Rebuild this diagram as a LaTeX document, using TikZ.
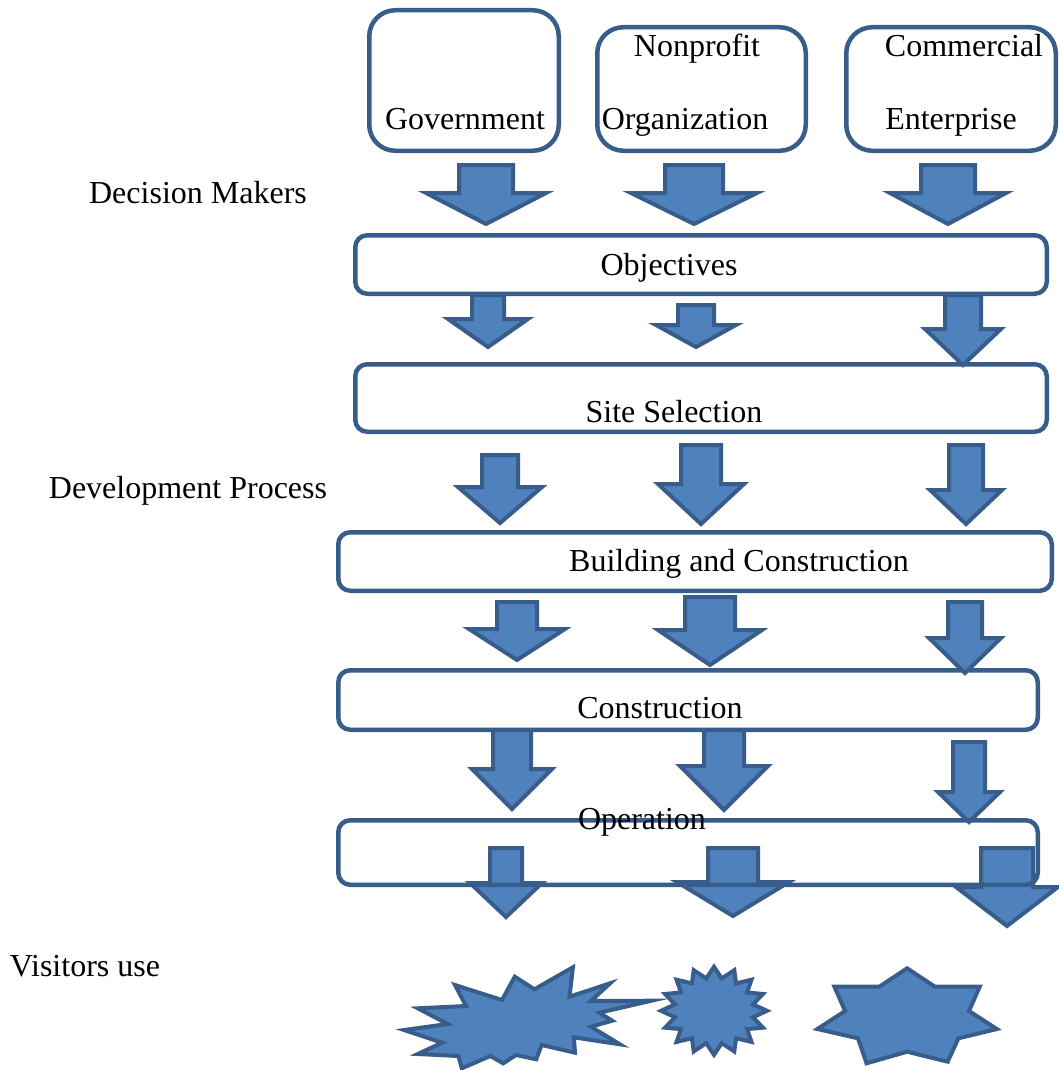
\documentclass[tikz,border=0pt]{standalone}
\usepackage{fontspec}
\setmainfont{Liberation Serif}
\definecolor{afill}{HTML}{4F81BD}
\definecolor{aline}{HTML}{385D8A}
\tikzset{
  blk/.style={draw=aline, line width=4pt, fill=afill, line join=miter},
  boxshape/.style={draw=aline, line width=4.5pt, fill=white, rounded corners=12pt, rectangle, inner sep=0pt, outer sep=0pt},
  topbox/.style={boxshape, rounded corners=26pt},
  lbl/.style={inner sep=0pt, text height=21pt, text depth=0pt, font=\fontsize{32}{38}\selectfont}
}
% cx, shaft top, shaft half width, wing y, head half width, tip y
\newcommand{\blockarr}[6]{%
  \draw[blk] ({#1-#3},#2) -- ({#1+#3},#2) -- ({#1+#3},#4) -- ({#1+#5},#4) -- (#1,#6)
    -- ({#1-#5},#4) -- ({#1-#3},#4) -- cycle;}
\begin{document}
\begin{tikzpicture}[x=1pt,y=-1pt]
\useasboundingbox (0,0) rectangle (1059,1070);

% boxes
\node[topbox, minimum width=189.5pt, minimum height=140.5pt] (gov) at (464,80.5) {};
\node[topbox, minimum width=208.5pt, minimum height=123.5pt] (npo) at (701.5,89) {};
\node[topbox, minimum width=209.5pt, minimum height=123.5pt] (com) at (951,89) {};
\node[boxshape, minimum width=691.5pt, minimum height=58.5pt] (obj) at (701,264.5) {};
\node[boxshape, minimum width=691.5pt, minimum height=67.5pt] (site) at (701,398) {};
\node[boxshape, minimum width=713.5pt, minimum height=58.5pt] (bld) at (695,561.5) {};
\node[boxshape, minimum width=699.5pt, minimum height=59.5pt] (cons) at (688,700) {};
\node[boxshape, draw=none, minimum width=699.5pt, minimum height=64.5pt] (oper) at (688,852.5) {};

% arrows row 1
\blockarr{486}{165}{27}{193}{60}{224}
\blockarr{694}{165}{29}{193}{63}{224}
\blockarr{948}{165}{27}{193}{58}{224}
% row 2
\blockarr{488}{295}{16}{319}{40}{347}
\blockarr{696}{305}{18}{325}{40}{347}
\blockarr{963}{295}{18}{329}{38}{365}
% row 3
\blockarr{500}{455}{18}{487}{42}{523}
\blockarr{701}{445}{20}{484}{43}{524}
\blockarr{966}{445}{17}{490}{36}{524}
% row 4
\blockarr{517}{602}{20}{629}{48}{660}
\blockarr{710}{597}{25}{630}{52}{665}
\blockarr{965}{602}{17}{638}{36}{673}
% row 5
\blockarr{512}{730}{19}{769}{40}{809}
\blockarr{724}{730}{20}{766}{44}{810}
\blockarr{969}{742}{16}{792}{31}{822}
% row 6
\blockarr{506}{848}{16}{883}{36}{917}
\blockarr{733}{848}{25}{882}{56}{916}
\blockarr{1007}{848}{26}{887}{51}{926}

% operation outline on top of its arrows
\draw[draw=aline, line width=4.5pt, rounded corners=12pt] (oper.north west) rectangle (oper.south east);

% stars
\draw[blk] (572.9,967.3) -- (569.5,996.7) -- (610.1,983.3) -- (590.9,1001) -- (651.5,1000.7)
  -- (599.4,1012.7) -- (612.2,1020.7) -- (590.9,1026.7) -- (619.9,1044.3) -- (573.8,1037.3)
  -- (575.0,1052.7) -- (541.7,1045) -- (536.2,1059.3) -- (516.1,1055) -- (503.2,1063.3)
  -- (490.4,1056) -- (461.8,1068.3) -- (458.4,1056) -- (417.8,1054) -- (442.1,1042.7)
  -- (404.1,1030) -- (447.7,1024) -- (417.8,1008.3) -- (466.1,1006) -- (455.0,985)
  -- (502.0,1000) -- (514.8,976.7) -- (534.4,989.3) -- cycle;
\draw[blk] plot[samples at={0,...,31}]
  ({714+53*(0.875+0.125*cos(180*\x))*cos(90+11.25*\x)},
   {1010.8-44*(0.875+0.125*cos(180*\x))*sin(90+11.25*\x)}) -- cycle;
\draw[blk] (907.1,968.3) -- (934.9,986.7) -- (979.7,986.7) -- (969,1011) -- (996.8,1029)
  -- (958.4,1038.3) -- (947.7,1061.7) -- (907.1,1051.7) -- (866.5,1063.3) -- (858,1038.3)
  -- (817.4,1029) -- (845.1,1011) -- (834.4,986.7) -- (879.3,986.7) -- cycle;

% texts
\node[lbl] (tgov) at (465,119) {Government};
\node[lbl] (tnpo1) at (697,46) {Nonprofit};
\node[lbl] (tnpo2) at (685,119) {Organization};
\node[lbl] (tcom1) at (964,46) {Commercial};
\node[lbl] (tcom2) at (951,119) {Enterprise};
\node[lbl] (tobj) at (669,265) {Objectives};
\node[lbl] (tsite) at (674,412) {Site Selection};
\node[lbl] (tbld) at (739,561) {Building and Construction};
\node[lbl] (tcons) at (660,708) {Construction};
\node[lbl] (toper) at (642,819) {Operation};
\node[lbl] (tdm) at (198,193) {Decision Makers};
\node[lbl] (tdp) at (188,488) {Development Process};
\node[lbl] (tvu) at (85,966) {Visitors use};
\end{tikzpicture}
\end{document}
